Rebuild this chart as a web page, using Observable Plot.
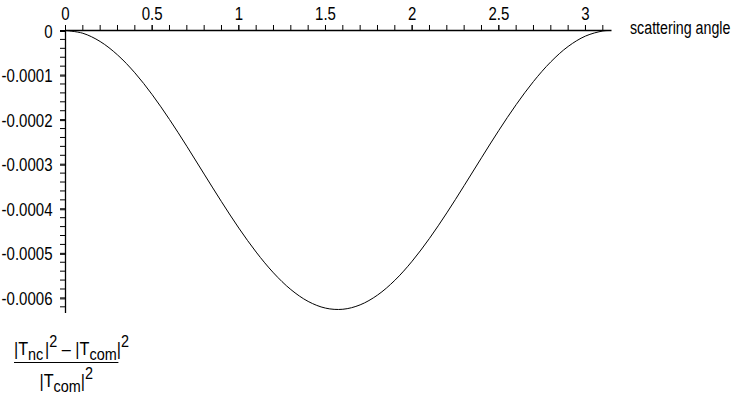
<!DOCTYPE html>
<html><head><meta charset="utf-8">
<script src="https://cdn.jsdelivr.net/npm/d3@7"></script>
<script src="https://cdn.jsdelivr.net/npm/@observablehq/plot@0.6"></script>
<style>
body{margin:0;background:#fff;}
#wrap{position:relative;width:747px;height:405px;overflow:hidden;background:#fff;
  font-family:"Liberation Sans",Arial,sans-serif;color:#000;}
#chart svg{display:block;overflow:visible;}
#frac{position:absolute;left:14px;top:340px;width:116px;font-size:18px;line-height:18px;text-align:center;
  transform:scaleX(0.9);transform-origin:0 0;}
#frac .num{display:block;height:18px;padding-bottom:4px;border-bottom:1.5px solid #000;white-space:nowrap;}
#frac .den{display:block;height:18px;padding-top:9px;white-space:nowrap;}
#frac sub{font-size:16px;vertical-align:-5px;line-height:0;}
#frac sup{font-size:16px;vertical-align:8px;line-height:0;}
#frac .sp{display:inline-block;width:2px;}
</style></head>
<body>
<div id="wrap"><div id="chart"></div>
<div id="frac"><span class="num">|T<sub>nc</sub><span class="sp"></span>|<sup>2</sup> – |T<sub>com</sub>|<sup>2</sup></span><span class="den">|T<sub>com</sub>|<sup>2</sup></span></div>
</div>
<script>
// scattering angle (rad)
const angle = [0,0.1,0.2,0.3,0.4,0.5,0.6,0.7,0.8,0.9,1.0,1.1,1.2,1.3,1.4,1.5,1.6,1.7,1.8,1.9,2.0,2.1,2.2,2.3,2.4,2.5,2.6,2.7,2.8,2.9,3.0,3.1,3.1416];
// (|Tnc|^2 - |Tcom|^2)/|Tcom|^2, in units of 1e-4
const ratioE4 = [0,-0.062,-0.247,-0.547,-0.949,-1.439,-1.996,-2.598,-3.222,-3.841,-4.433,-4.972,-5.438,-5.812,-6.079,-6.229,-6.255,-6.156,-5.937,-5.606,-5.176,-4.664,-4.092,-3.481,-2.856,-2.242,-1.664,-1.144,-0.703,-0.358,-0.125,-0.011,0];
const xTickLabels = [0,0.5,1,1.5,2,2.5,3];
const yTickLabels = [0,-0.0001,-0.0002,-0.0003,-0.0004,-0.0005,-0.0006];
const xMinor = d3.range(0, 3.15, 0.1);
const yMinor = d3.range(0, -0.000635, -0.00002);
const xLabel = "scattering angle";

const data = angle.map((a,i)=>({a, r: ratioE4[i]*1e-4}));

const chart = Plot.plot({
  width: 747, height: 320,
  marginLeft: 65, marginRight: 135.5, marginTop: 30, marginBottom: 7,
  x: {domain: [0, 3.153]},
  y: {domain: [-0.000635, 0]},
  style: {fontFamily: '"Liberation Sans",Arial,sans-serif', fontSize: "19px", color: "#000", background: "transparent", overflow: "visible"},
  marks: [
    Plot.ruleY([0], {stroke: "#000", strokeWidth: 1.3}),
    Plot.ruleX([0], {stroke: "#000", strokeWidth: 1.3}),
    Plot.axisX({anchor: "top", ticks: xMinor, tickSize: 6, tickFormat: () => "", label: null, stroke: "#000", strokeOpacity: 1}),
    Plot.axisX({anchor: "top", ticks: xTickLabels, tickSize: 6, tickPadding: 5, tickFormat: d => String(d), label: null, stroke: "#000", strokeOpacity: 1}),
    Plot.axisY({anchor: "left", ticks: yMinor, tickSize: 5, tickFormat: () => "", label: null, stroke: "#000", strokeOpacity: 1}),
    Plot.axisY({anchor: "left", ticks: yTickLabels, tickSize: 5, tickPadding: 8, dy: 1, tickFormat: d => d === 0 ? "0" : d.toFixed(4), label: null, stroke: "#000", strokeOpacity: 1}),
    Plot.line(data, {x: "a", y: "r", stroke: "#000", strokeWidth: 1, curve: "catmull-rom"}),
    Plot.text([xLabel], {frameAnchor: "top-right", text: d => d, textAnchor: "start", lineAnchor: "bottom", dx: 18, dy: 3, fill: "#000", fontSize: 18})
  ]
});
document.getElementById("chart").appendChild(chart);
// condense glyphs to mimic a narrow sans face
chart.querySelectorAll("text").forEach(t => {
  if (!t.textContent) return;
  const L = t.getComputedTextLength();
  if (L > 0) { t.setAttribute("textLength", (L * 0.79).toFixed(2)); t.setAttribute("lengthAdjust", "spacingAndGlyphs"); }
});
</script>
</body></html>
